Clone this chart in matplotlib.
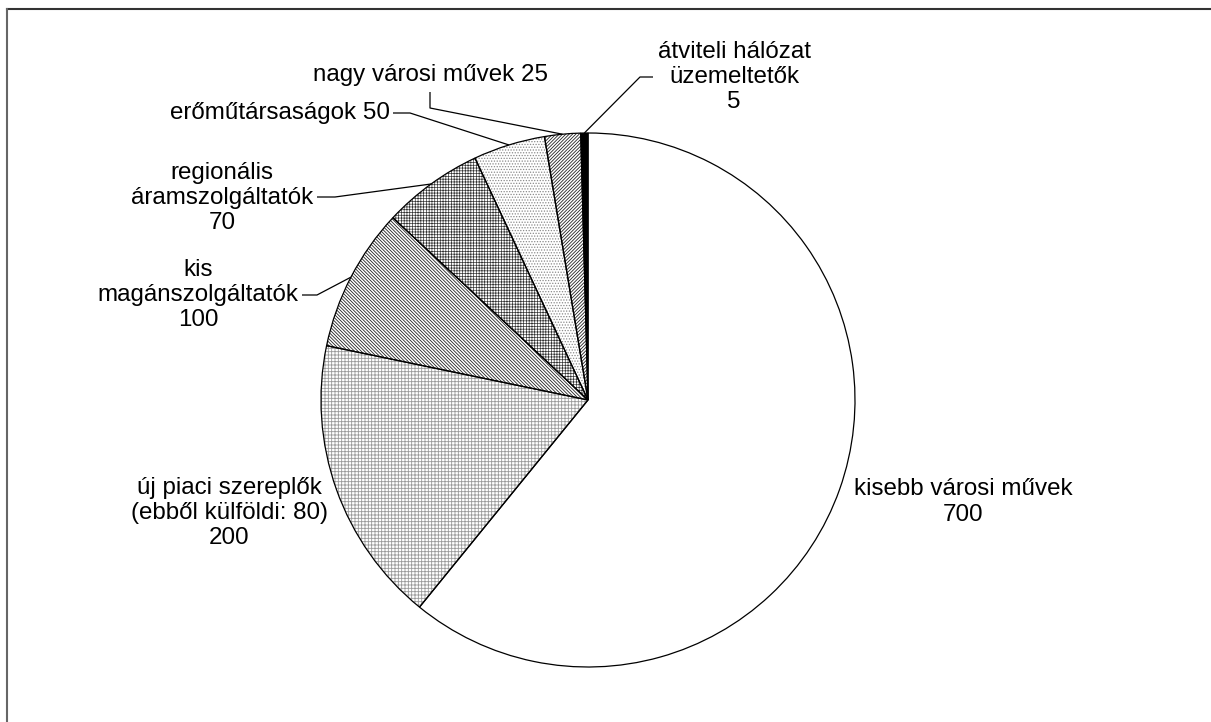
import numpy as np
import matplotlib
matplotlib.use("Agg")
import matplotlib.pyplot as plt
from matplotlib.lines import Line2D

# ---- data ----
names = ["kisebb városi művek",
         "új piaci szereplők\n(ebből külföldi: 80)",
         "kis\nmagánszolgáltatók",
         "regionális\náramszolgáltatók",
         "erőműtársaságok",
         "nagy városi művek",
         "átviteli hálózat\nüzemeltetők"]
values = [700, 200, 100, 70, 50, 25, 5]
value_sep = ["\n", "\n", "\n", "\n", " ", " ", "\n"]

# ---- styles ----
face_colors = ["white", "white", "white", "white", "white", "white", "black"]
hatch_colors = ["black", "#9a9a9a", "#222222", "#333333", "#8a8a8a", "#222222", "black"]
hatches = [None, "+++++", "\\" * 10, "++++++", "......", "/" * 10, None]
hatch_lws = [0.6, 0.6, 0.6, 0.5, 0.6, 0.6, 0.6]

W, H = 1211, 722
CX, CY, R = 588, 400, 267   # pie centre / radius in pixels

plt.rcParams["font.family"] = ["Liberation Sans", "DejaVu Sans"]
plt.rcParams["hatch.linewidth"] = 0.6

fig = plt.figure(figsize=(W / 100, H / 100), dpi=100)
ax = fig.add_axes([0, 0, 1, 1])


def px(x, y):
    return ((x - CX) / R, (CY - y) / R)


wedges, _ = ax.pie(values, startangle=90, counterclock=False, radius=1,
                   center=(0, 0), frame=True,
                   wedgeprops=dict(linewidth=0))
for w, fc, hc, h, hl in zip(wedges, face_colors, hatch_colors, hatches, hatch_lws):
    w.set_facecolor(fc)
    w.set_edgecolor(hc)
    w.set_linewidth(0)
    if h:
        w.set_hatch(h)
        if hasattr(w, "set_hatch_linewidth"):
            w.set_hatch_linewidth(hl)

outline, _ = ax.pie(values, startangle=90, counterclock=False, radius=1,
                    center=(0, 0), frame=True,
                    wedgeprops=dict(fill=False, edgecolor="black", linewidth=0.9))
ax.set_xlim(-CX / R, (W - CX) / R)
ax.set_ylim((CY - H) / R, CY / R)
ax.set_aspect("auto")
ax.axis("off")

# ---- labels ----
label_px = [(963, 502), (229, 513), (198, 295), (222, 198), (280, 113), (430, 75), (734, 77)]
elbows = {2: [(317, 295), (302, 295)],
          3: [(335, 197), (317, 197)],
          4: [(410, 113), (393, 113)],
          5: [(430, 108), (430, 92)],
          6: [(640, 77), (653, 77)]}

for i, (n, v, s) in enumerate(zip(names, values, value_sep)):
    x, y = px(*label_px[i])
    ax.text(x, y, f"{n}{s}{v}", ha="center", va="center", multialignment="center",
            fontsize=17.4, color="black", linespacing=1.2)
    if i in elbows:
        w = wedges[i]
        mid = np.deg2rad((w.theta1 + w.theta2) / 2)
        pts = [(np.cos(mid), np.sin(mid))] + [px(*p) for p in elbows[i]]
        xs, ys = zip(*pts)
        ax.plot(xs, ys, color="black", linewidth=0.9, solid_capstyle="butt")

# ---- frame ----
fig.add_artist(Line2D([7 / W, 1], [1 - 9 / H, 1 - 9 / H], transform=fig.transFigure,
                      color="#333333", linewidth=1.5))
fig.add_artist(Line2D([7 / W, 7 / W], [0, 1 - 9 / H], transform=fig.transFigure,
                      color="#666666", linewidth=1.5))

fig.savefig("out.png", dpi=100, facecolor="white")
